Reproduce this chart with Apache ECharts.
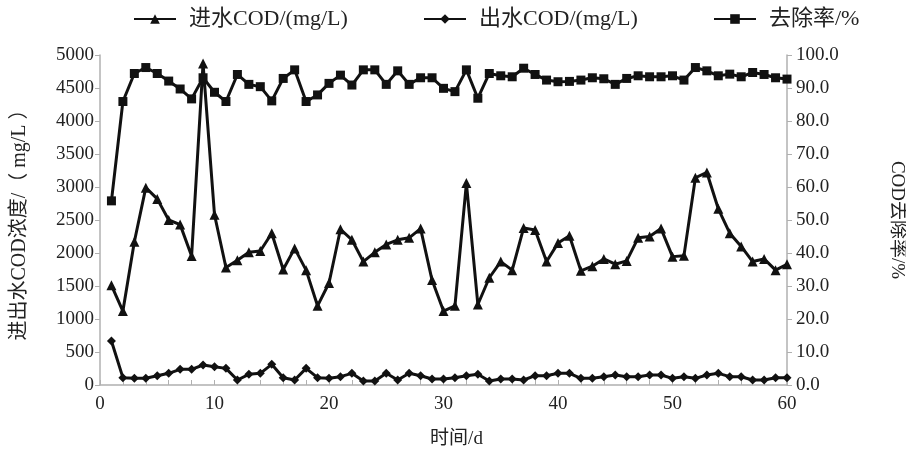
<!DOCTYPE html>
<html>
<head>
<meta charset="utf-8">
<script src="https://cdn.jsdelivr.net/npm/echarts@6/dist/echarts.min.js"></script>
<style>html,body{margin:0;padding:0;background:#fff;}#c{width:906px;height:450px;}</style>
</head>
<body>
<div id="c"></div>
<script>
const days = [1,2,3,4,5,6,7,8,9,10,11,12,13,14,15,16,17,18,19,20,21,22,23,24,25,26,27,28,29,30,31,32,33,34,35,36,37,38,39,40,41,42,43,44,45,46,47,48,49,50,51,52,53,54,55,56,57,58,59,60];
const influent = [1510,1120,2170,2990,2820,2500,2430,1955,4870,2580,1780,1890,2010,2030,2300,1750,2070,1740,1200,1545,2360,2200,1870,2010,2130,2200,2230,2370,1590,1120,1200,3060,1220,1625,1870,1740,2380,2350,1870,2150,2260,1730,1800,1910,1830,1880,2230,2250,2370,1945,1960,3140,3220,2670,2300,2100,1870,1910,1740,1830];
const effluent = [667,111,101,101,141,177,237,237,303,278,252,76,162,177,313,111,76,252,111,101,126,177,61,61,177,76,177,141,91,91,111,141,162,61,91,91,76,141,141,177,177,101,101,126,151,126,126,151,151,101,126,101,151,177,126,126,76,76,111,111];
const removal = [55.8,85.9,94.4,96.2,94.4,92.1,89.7,86.7,93.1,88.7,85.9,94.1,91.1,90.4,86.1,92.9,95.5,85.9,87.9,91.4,93.9,90.9,95.5,95.5,91.1,95.2,91.1,93.1,93.1,89.9,88.9,95.5,86.9,94.4,93.7,93.4,96.0,94.1,92.4,91.9,92.0,92.4,93.1,92.8,91.1,92.9,93.7,93.4,93.4,93.7,92.4,96.2,95.2,93.7,94.2,93.4,94.7,94.1,93.1,92.7];
const leftTicks = {min:0, max:5000, interval:500};
const rightTicks = {min:0, max:100, interval:10};
const names = ['进水COD/(mg/L)','出水COD/(mg/L)','去除率/%'];

const pair = arr => days.map((d,i)=>[d,arr[i]]);
const FONT = '"Liberation Serif","Times New Roman","Noto Sans CJK SC",serif';
const txt = {fontFamily: FONT, fontSize: 19, color:'#222'};
const axisGray = '#b0b0b0';
const chart = echarts.init(document.getElementById('c'), null, {renderer:'canvas'});
const legendBase = {top: 8, padding: 0, itemWidth: 42, itemHeight: 12, itemGap: 10, textStyle: {fontFamily: FONT, fontSize: 22, color:'#222', padding:[0,0,0,8]}};
chart.setOption({
  animation: false,
  backgroundColor: '#fff',
  legend: [
    Object.assign({left: 133, data:[names[0]]}, legendBase),
    Object.assign({left: 423, data:[names[1]]}, legendBase),
    Object.assign({left: 713, data:[names[2]]}, legendBase)
  ],
  grid: {left: 100, right: 119, top: 55, bottom: 65, containLabel: false, outerBoundsMode: 'none'},
  xAxis: {
    type: 'value', min: 0, max: 60, interval: 10,
    name: '时间/d', nameLocation: 'middle', nameGap: 45,
    nameTextStyle: Object.assign({padding:[0,0,0,26]}, txt),
    axisLine: {show: true, lineStyle: {color: axisGray, width: 1.5}},
    axisTick: {show: true, inside: true, length: 5, lineStyle:{color: axisGray}},
    minorTick: {show: true, splitNumber: 5, length: 5, lineStyle:{color: axisGray}},
    axisLabel: Object.assign({margin: 10}, txt),
    splitLine: {show: false}
  },
  yAxis: [
    {
      type: 'value', min: leftTicks.min, max: leftTicks.max, interval: leftTicks.interval,
      position: 'left',
      name: '进出水COD浓度/（ mg/L ）', nameLocation: 'middle', nameGap: 70, nameRotate: 90,
      nameTextStyle: Object.assign({}, txt, {fontSize: 20}),
      axisLine: {show: true, lineStyle: {color: axisGray, width: 1.5}},
      axisTick: {show: true, inside: false, length: 5, lineStyle:{color: axisGray}},
      axisLabel: Object.assign({margin: 6, formatter: v => String(v)}, txt),
      splitLine: {show: false}
    },
    {
      type: 'value', min: rightTicks.min, max: rightTicks.max, interval: rightTicks.interval,
      position: 'right',
      name: 'COD去除率/%', nameLocation: 'middle', nameGap: 100, nameRotate: -90,
      nameTextStyle: txt,
      axisLine: {show: true, lineStyle: {color: axisGray, width: 1.5}},
      axisTick: {show: true, inside: false, length: 5, lineStyle:{color: axisGray}},
      axisLabel: Object.assign({margin: 9, formatter: v => v.toFixed(1)}, txt),
      splitLine: {show: false}
    }
  ],
  series: [
    {
      name: names[0], type: 'line', yAxisIndex: 0, data: pair(influent),
      symbol: 'triangle', symbolSize: 10, showAllSymbol: true,
      lineStyle: {color:'#111', width: 3}, itemStyle: {color:'#111'}, clip: false
    },
    {
      name: names[1], type: 'line', yAxisIndex: 0, data: pair(effluent),
      symbol: 'diamond', symbolSize: 9, showAllSymbol: true,
      lineStyle: {color:'#111', width: 3}, itemStyle: {color:'#111'}, clip: false
    },
    {
      name: names[2], type: 'line', yAxisIndex: 1, data: pair(removal),
      symbol: 'rect', symbolSize: 9, showAllSymbol: true,
      lineStyle: {color:'#111', width: 3}, itemStyle: {color:'#111'}, clip: false
    }
  ]
});
</script>
</body>
</html>
